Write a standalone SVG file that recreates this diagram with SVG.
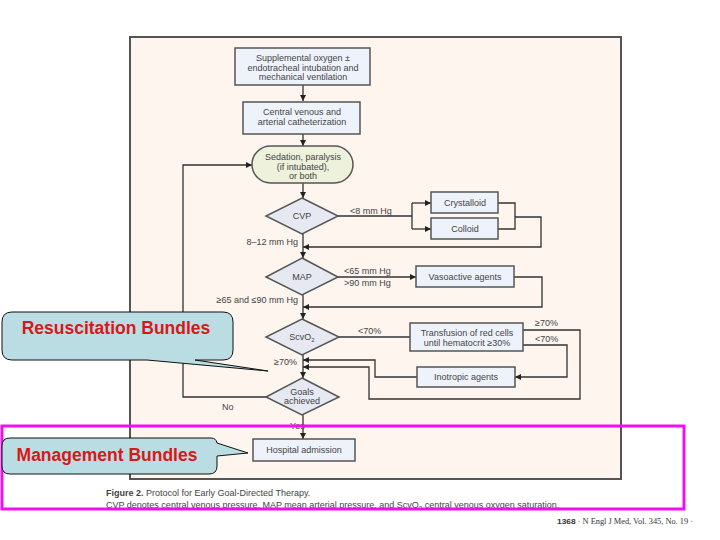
<svg xmlns="http://www.w3.org/2000/svg" width="720" height="540" viewBox="0 0 720 540">
<style>
.t{font-family:"Liberation Sans",Arial,sans-serif;font-size:9px;fill:#444;text-anchor:middle}
.l{font-family:"Liberation Sans",Arial,sans-serif;font-size:9px;fill:#444}
.box{fill:#EEF3FB;stroke:#555;stroke-width:1.5}
.dia{fill:#E6E8F2;stroke:#555;stroke-width:1.5}
.c{fill:none;stroke:#333;stroke-width:1.3}
.co{fill:#B9DDE3;stroke:#111;stroke-width:1}
.ct{font-family:"Liberation Sans",Arial,sans-serif;font-size:17.5px;font-weight:bold;fill:#D81818}
.cap{font-family:"Liberation Sans",Arial,sans-serif;font-size:9px;fill:#444}
</style>
<defs>
<marker id="a" markerWidth="6" markerHeight="6" refX="6" refY="3" orient="auto" markerUnits="userSpaceOnUse">
<path d="M0,0 L6,3 L0,6 z" fill="#222"/>
</marker>
</defs>
<rect x="0" y="0" width="720" height="540" fill="#fff"/>
<rect id="frame" x="130" y="37" width="491" height="442" fill="#FDF5EE" stroke="#555" stroke-width="2"/>

<g id="connectors">
<path class="c" d="M303,85 V101" marker-end="url(#a)"/>
<path class="c" d="M303,134 V146" marker-end="url(#a)"/>
<path class="c" d="M303,183 V198" marker-end="url(#a)"/>
<path class="c" d="M303,234 V258" marker-end="url(#a)"/>
<path class="c" d="M303,295 V319" marker-end="url(#a)"/>
<path class="c" d="M303,355 V378" marker-end="url(#a)"/>
<path class="c" d="M303,415 V439" marker-end="url(#a)"/>
<path class="c" d="M266,397 H183 V165 H252" marker-end="url(#a)"/>
<path class="c" d="M338,216 H412 M412,203 V229"/>
<path class="c" d="M412,203 H431" marker-end="url(#a)"/>
<path class="c" d="M412,229 H431" marker-end="url(#a)"/>
<path class="c" d="M498,203 H515 V229 H498"/>
<path class="c" d="M515,217 H541 V247 H303" marker-end="url(#a)"/>
<path class="c" d="M338,277 H416" marker-end="url(#a)"/>
<path class="c" d="M514,277 H542 V307 H303" marker-end="url(#a)"/>
<path class="c" d="M339,337 H410"/>
<path class="c" d="M523,330 H580 V399 H369 V367 H303" marker-end="url(#a)"/>
<path class="c" d="M523,345 H567 V377 H515" marker-end="url(#a)"/>
<path class="c" d="M417,377 H375 V360 H303" marker-end="url(#a)"/>
</g>

<g id="n-oxygen">
<rect class="box" x="235" y="48" width="135" height="37"/>
<text class="t" x="303" y="61">Supplemental oxygen ±</text>
<text class="t" x="303" y="70.5">endotracheal intubation and</text>
<text class="t" x="303" y="80">mechanical ventilation</text>
</g>
<g id="n-cath">
<rect class="box" x="243" y="102" width="117" height="32"/>
<text class="t" x="302" y="115">Central venous and</text>
<text class="t" x="302" y="125">arterial catheterization</text>
</g>
<g id="n-sedation">
<rect x="252" y="146" width="101" height="37" rx="18.5" fill="#EEF1DC" stroke="#555" stroke-width="1.5"/>
<text class="t" x="303" y="160">Sedation, paralysis</text>
<text class="t" x="303" y="169.5">(if intubated),</text>
<text class="t" x="303" y="179">or both</text>
</g>
<g id="n-cvp">
<path class="dia" d="M302,198 L338,216 L302,234 L266,216 Z"/>
<text class="t" x="302" y="219">CVP</text>
</g>
<g id="n-crystalloid">
<rect class="box" x="431" y="192" width="67" height="21"/>
<text class="t" x="465" y="206">Crystalloid</text>
</g>
<g id="n-colloid">
<rect class="box" x="431" y="218" width="67" height="21"/>
<text class="t" x="465" y="232">Colloid</text>
</g>
<g id="n-map">
<path class="dia" d="M302,258 L338,277 L302,295 L266,277 Z"/>
<text class="t" x="302" y="280">MAP</text>
</g>
<g id="n-vaso">
<rect class="box" x="416" y="266" width="98" height="21"/>
<text class="t" x="465" y="280">Vasoactive agents</text>
</g>
<g id="n-scvo2">
<path class="dia" d="M302,319 L339,337 L302,355 L266,337 Z"/>
<text class="t" x="302" y="340">ScvO<tspan font-size="6" dy="2">2</tspan></text>
</g>
<g id="n-transfusion">
<rect class="box" x="410" y="323" width="113" height="28"/>
<text class="t" x="467" y="336">Transfusion of red cells</text>
<text class="t" x="467" y="346">until hematocrit ≥30%</text>
</g>
<g id="n-inotropic">
<rect class="box" x="417" y="367" width="98" height="20"/>
<text class="t" x="466" y="380">Inotropic agents</text>
</g>
<g id="n-goals">
<path class="dia" d="M302,378 L339,397 L302,415 L266,397 Z"/>
<text class="t" x="302" y="395">Goals</text>
<text class="t" x="302" y="404">achieved</text>
</g>
<g id="n-hospital">
<rect class="box" x="253" y="439" width="102" height="22"/>
<text class="t" x="304" y="453">Hospital admission</text>
</g>

<g id="labels">
<text class="l" x="350" y="214">&lt;8 mm Hg</text>
<text class="l" x="298" y="245" text-anchor="end">8–12 mm Hg</text>
<text class="l" x="344" y="274">&lt;65 mm Hg</text>
<text class="l" x="344" y="286">&gt;90 mm Hg</text>
<text class="l" x="298" y="303" text-anchor="end">≥65 and ≤90 mm Hg</text>
<text class="l" x="358" y="334">&lt;70%</text>
<text class="l" x="535" y="326">≥70%</text>
<text class="l" x="535" y="342">&lt;70%</text>
<text class="l" x="297" y="365" text-anchor="end">≥70%</text>
<text class="l" x="222" y="410">No</text>
<text class="l" x="290" y="428.5">Yes</text>
</g>

<g id="caption">
<text class="cap" x="106" y="496"><tspan font-weight="bold">Figure 2.</tspan> Protocol for Early Goal-Directed Therapy.</text>
<text class="cap" x="106" y="508">CVP denotes central venous pressure, MAP mean arterial pressure, and ScvO<tspan font-size="6" dy="2">2</tspan><tspan dy="-2"> central venous oxygen saturation.</tspan></text>
<text x="557" y="524" font-family="'Liberation Serif',serif" font-size="8" fill="#333" textLength="136" lengthAdjust="spacingAndGlyphs"><tspan font-family="'Liberation Sans',sans-serif" font-weight="bold">1368</tspan> · N Engl J Med, Vol. 345, No. 19 ·</text>
</g>

<rect id="management-frame" x="2" y="426" width="682" height="83" fill="none" stroke="#EE10EE" stroke-width="3"/>

<g id="callout-resuscitation">
<path class="co" d="M12,312 H223 Q233,312 233,322 V350 Q233,360 223,360 H195 L268,371 L147,360 H12 Q2,360 2,350 V322 Q2,312 12,312 Z"/>
<text class="ct" x="116" y="334" text-anchor="middle">Resuscitation Bundles</text>
</g>
<g id="callout-management">
<path class="co" d="M10,438 H211 Q216,438 217,443 L248,453 L217,456 V466 Q217,474 209,474 H10 Q2,474 2,466 V446 Q2,438 10,438 Z"/>
<text class="ct" x="107" y="461" text-anchor="middle">Management Bundles</text>
</g>
</svg>
